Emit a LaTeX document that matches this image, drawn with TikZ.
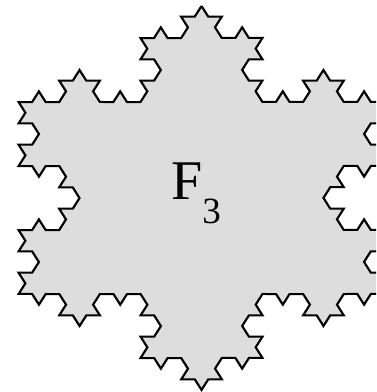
\documentclass[tikz,border=0pt]{standalone}
\usepackage{fontspec}
\setmainfont{Liberation Serif}
\usetikzlibrary{decorations.fractals}
\definecolor{flakegray}{RGB}{221,221,221}
\begin{document}
\begin{tikzpicture}[x=1pt,y=1pt,
  flake/.style={draw=black, line width=2pt, fill=flakegray, line join=miter},
  lab/.style={font=\fontsize{56}{56}\selectfont, inner sep=0pt, anchor=base west}]
\useasboundingbox (0,0) rectangle (376,392);
\clip (0,0) rectangle (376,392);
% starting triangle, clockwise so the bumps go outwards;
% the whole flake is a bit wider than it is high
\begin{scope}[transform canvas={xshift=201.5pt, yshift=194pt, xscale=1.1}]
  \coordinate (t1) at (90:192);
  \coordinate (t2) at (-30:192);
  \coordinate (t3) at (210:192);
  \path[flake, decoration={Koch snowflake}]
    decorate{decorate{decorate{(t1) -- (t2) -- (t3) -- cycle}}};
\end{scope}
\node[lab] (name) at (171,192) {F\raisebox{-23pt}{\fontsize{37}{37}\selectfont 3}};
\end{tikzpicture}
\end{document}
